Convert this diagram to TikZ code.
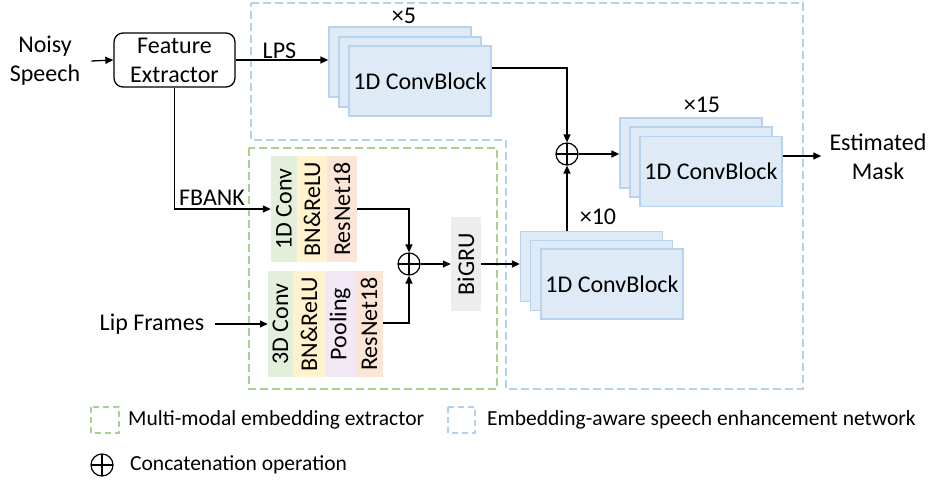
\documentclass[tikz,border=0pt]{standalone}
\usepackage{fontspec}
\setmainfont{Carlito}
\usetikzlibrary{arrows.meta}
\definecolor{bluefill}{HTML}{DEEBF7}
\definecolor{blueline}{HTML}{B8D3EE}
\definecolor{bluedash}{HTML}{B4D0EC}
\definecolor{greendash}{HTML}{A9D18E}
\definecolor{gfill}{HTML}{E2EFDA}
\definecolor{yfill}{HTML}{FFF2CC}
\definecolor{ofill}{HTML}{FBE5D6}
\definecolor{pfill}{HTML}{F2E8F6}
\definecolor{grayfill}{HTML}{EDEDED}
\tikzset{
  conn/.style={line width=1.3pt,-{Triangle[length=8pt,width=7pt]}},
  cblock/.style={draw=blueline,fill=bluefill,line width=1.3pt,minimum width=142pt,minimum height=70pt,inner sep=0pt},
  vblk/.style={minimum height=106pt,inner sep=0pt,draw=none},
  oplus/.style={circle,draw,line width=1.2pt,minimum size=22pt,inner sep=0pt,
    path picture={\draw[line width=1.2pt] (path picture bounding box.north) -- (path picture bounding box.south)
      (path picture bounding box.west) -- (path picture bounding box.east);}},
  bluedashed/.style={draw=bluedash,line width=1.5pt,dash pattern=on 8pt off 4pt},
  greendashed/.style={draw=greendash,line width=1.5pt,dash pattern=on 8pt off 4pt},
  lbl/.style={inner sep=0pt},
}
\begin{document}
\begin{tikzpicture}[x=1pt,y=-1pt,font=\fontsize{24}{29}\selectfont]
\useasboundingbox (0,0) rectangle (932,482);

% dashed regions
\draw[bluedashed] (251,3) -- (803,3) -- (803,389) -- (506,389) -- (506,140) -- (251,140) -- cycle;
\draw[greendashed] (249,148) rectangle (497,389);

% inputs
\node[align=center,inner xsep=11pt,inner ysep=0pt] (noisy) at (45,61) {Noisy\\Speech};
\node[draw,rounded corners=9pt,line width=1.3pt,minimum width=121pt,minimum height=54pt,align=center,inner sep=0pt] (fe) at (174.5,60) {Feature\\Extractor};
\node[inner xsep=11pt,inner ysep=0pt] (lip) at (152,324) {Lip Frames};

% stack x5
\node[cblock] (s1a) at (400,62) {};
\node[cblock] (s1b) at (410,72) {};
\node[cblock] (s1c) at (420,81) {1D ConvBlock};
\node[lbl] (n5) at (404,16) {×5};

% stack x15
\node[cblock] (s3a) at (691,153) {};
\node[cblock] (s3b) at (701,162) {};
\node[cblock] (s3c) at (711,171.5) {1D ConvBlock};
\node[lbl] (n15) at (702,105) {×15};

% stack x10
\node[cblock] (s2a) at (591.5,266.5) {};
\node[cblock] (s2b) at (601.5,275.5) {};
\node[cblock] (s2c) at (612,284) {1D ConvBlock};
\node[lbl] (n10) at (598,217) {×10};

% audio branch
\node[vblk,fill=gfill,minimum width=26pt] (c1) at (284,209) {\rotatebox{90}{1D Conv}};
\node[vblk,fill=yfill,minimum width=30pt] (bn1) at (312,209) {\rotatebox{90}{BN\&ReLU}};
\node[vblk,fill=ofill,minimum width=30pt] (res1) at (342,209) {\rotatebox{90}{ResNet18}};

% visual branch
\node[vblk,fill=gfill,minimum width=25pt] (c2) at (280.5,324) {\rotatebox{90}{3D Conv}};
\node[vblk,fill=yfill,minimum width=32pt] (bn2) at (309,324) {\rotatebox{90}{BN\&ReLU}};
\node[vblk,fill=pfill,minimum width=30pt] (pool) at (340,324) {\rotatebox{90}{Pooling}};
\node[vblk,fill=ofill,minimum width=28pt] (res2) at (369,324) {\rotatebox{90}{ResNet18}};

\node[vblk,fill=grayfill,minimum width=30pt,minimum height=94pt] (bigru) at (466,264) {\rotatebox{90}{BiGRU}};

\node[oplus] (o2) at (409,264) {};
\node[oplus] (o1) at (567,154) {};

\node[align=center,inner xsep=8pt,inner ysep=0pt] (em) at (878,156.5) {Estimated\\Mask};

% connectors
\draw[conn] (noisy.east) -- (fe.west);
\draw[conn] (fe.east) -- (fe.east -| s1a.west);
\node[lbl] (lps) at (279.5,51) {LPS};
\draw[conn] (fe.south) |- (c1.west);
\node[lbl] (fbank) at (212,198) {FBANK};
\draw[conn] (lip.east) -- (lip.east -| c2.west);
\draw[conn] (res1.east) -| (o2.north);
\draw[conn] ([yshift=1pt]res2.east) -| (o2.south);
\draw[conn] (o2.east) -- (bigru.west);
\draw[conn] (bigru.east) -- (bigru.east -| s2a.west);
\draw[conn] ([yshift=13pt]s1c.east) -| (o1.north);
\draw[conn] (o1.south |- s2a.north) -- (o1.south);
\draw[conn] (o1.east) -- (o1.east -| s3a.west);
\draw[conn] ([yshift=15.5pt]s3c.east) -- (em.west |- 0,156);

% legend
\begin{scope}[font=\fontsize{21.5}{26}\selectfont]
\draw[greendashed,dash pattern=on 6pt off 4pt] (91,407) rectangle (119,433);
\node[lbl,anchor=west] (lg1) at (128,420) {Multi-modal embedding extractor};
\draw[bluedashed,dash pattern=on 6pt off 4pt] (448,407) rectangle (475,433);
\node[lbl,anchor=west] (lg2) at (487,420) {Embedding-aware speech enhancement network};
\node[oplus] (lg3) at (102,465) {};
\node[lbl,anchor=west] (lg4) at (130,465) {Concatenation operation};
\end{scope}
\end{tikzpicture}
\end{document}
